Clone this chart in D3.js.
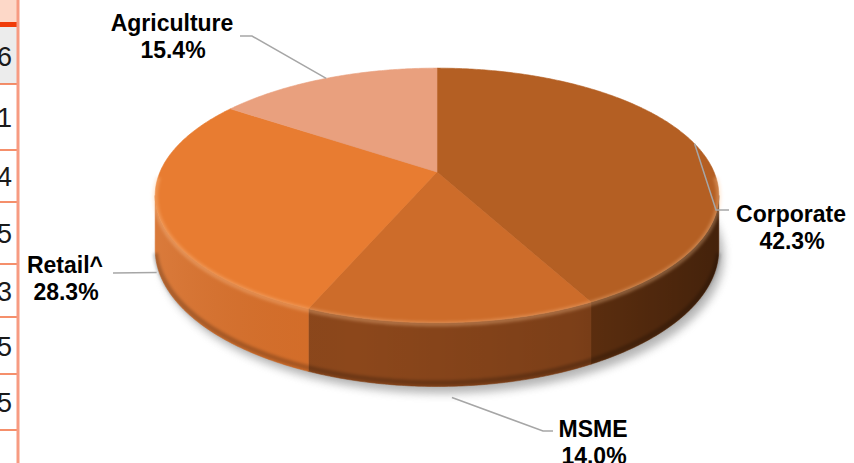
<!DOCTYPE html>
<html>
<head>
<meta charset="utf-8">
<script src="https://cdn.jsdelivr.net/npm/d3@7/dist/d3.min.js"></script>
<style>
  html, body { margin: 0; padding: 0; background: #fff; }
  svg { display: block; font-family: "Liberation Sans", Arial, sans-serif; }
</style>
</head>
<body>
<div id="chart"></div>
<script>
// loan book mix (%), clockwise from 12 o'clock
const categories = ["Corporate", "MSME", "Retail^", "Agriculture"];
const shares = [42.3, 14.0, 28.3, 15.4];
const topColors = ["#b45f23", "#cd6c2a", "#e87c31", "#e9a07e"];
const wallColors = ["#6a3511", "#8c471b", "#d66e29", "#d98c66"];

// cut-off table column on the left edge
const tableDigits = ["6", "1", "4", "5", "3", "5", "5"];
const rowEdges = [27, 84, 150, 202, 264, 317, 374, 430];

const W = 854, H = 463;
const CX = 437, CY = 172, RX = 277, RY = 123, A = 0.184, DEPTH = 52;

const svg = d3.select("#chart").append("svg")
  .attr("width", W)
  .attr("height", H);

const defs = svg.append("defs");
defs.append("filter").attr("id", "shadowBlur")
  .attr("x", "-20%").attr("y", "-20%").attr("width", "140%").attr("height", "140%")
  .append("feGaussianBlur").attr("stdDeviation", 4);
defs.append("filter").attr("id", "rimBlur")
  .attr("x", "-10%").attr("y", "-10%").attr("width", "120%").attr("height", "120%")
  .append("feGaussianBlur").attr("stdDeviation", 1.8);

const wallShade = defs.append("linearGradient")
  .attr("id", "wallShade")
  .attr("gradientUnits", "userSpaceOnUse")
  .attr("x1", CX - RX).attr("x2", CX + RX).attr("y1", 0).attr("y2", 0);
[[0, "#fff", 0.08], [0.35, "#000", 0.0], [0.75, "#000", 0.12], [1, "#000", 0.35]].forEach(s => {
  wallShade.append("stop").attr("offset", s[0]).attr("stop-color", s[1]).attr("stop-opacity", s[2]);
});

// --- table remnant ---
const table = svg.append("g");
table.append("rect").attr("x", 0).attr("y", 0).attr("width", 17).attr("height", 22).attr("fill", "#fdd8c8");
table.append("rect").attr("x", 0).attr("y", 27).attr("width", 17).attr("height", rowEdges[1] - 27).attr("fill", "#ececec");
table.append("rect").attr("x", 0).attr("y", 22).attr("width", 17).attr("height", 5).attr("fill", "#f03c0a");
table.selectAll(".rowLine")
  .data(rowEdges.slice(1))
  .enter().append("line")
  .attr("x1", 0).attr("x2", 17)
  .attr("y1", d => d).attr("y2", d => d)
  .attr("stroke", "#f26a3a").attr("stroke-width", 1.5);
table.selectAll(".digit")
  .data(tableDigits)
  .enter().append("text")
  .attr("x", 12)
  .attr("y", (d, i) => (rowEdges[i] + rowEdges[i + 1]) / 2 + 10)
  .attr("text-anchor", "end")
  .style("font-size", "27px")
  .attr("fill", "#1a1a1a")
  .text(d => d);
table.append("rect").attr("x", 16.5).attr("y", 0).attr("width", 3).attr("height", H).attr("fill", "#f79b82");

// --- 3D pie ---
function proj(t, h) {
  const u = Math.sin(t), v = -Math.cos(t), p = 1 / (1 - A * v);
  return [CX + RX * u * p, CY + RY * v * p + h * p];
}
function arcPts(a0, a1, h) {
  const n = Math.max(2, Math.ceil((a1 - a0) / 0.01));
  return d3.range(n + 1).map(i => proj(a0 + (a1 - a0) * i / n, h));
}
const line = d3.line();
const arcs = d3.pie().sort(null).value(d => d)(shares);
const tMin = Math.acos(-A), tMax = 2 * Math.PI - tMin;

// shadow under the pie
svg.append("path")
  .attr("d", line(arcPts(0, 2 * Math.PI, DEPTH)) + "Z")
  .attr("transform", "translate(5,7)")
  .attr("fill", "#7a7a7a")
  .attr("opacity", 0.55)
  .attr("filter", "url(#shadowBlur)");

// side walls (front-facing part only)
const walls = svg.append("g");
arcs.forEach((d, i) => {
  const a0 = Math.max(d.startAngle, tMin), a1 = Math.min(d.endAngle, tMax);
  if (a0 >= a1) return;
  const pts = arcPts(a0, a1, 0).concat(arcPts(a0, a1, DEPTH).reverse());
  walls.append("path")
    .attr("d", line(pts) + "Z")
    .attr("fill", wallColors[i])
    .attr("stroke", wallColors[i])
    .attr("stroke-width", 0.6);
});
walls.append("path")
  .attr("d", line(arcPts(tMin, tMax, 0).concat(arcPts(tMin, tMax, DEPTH).reverse())) + "Z")
  .attr("fill", "url(#wallShade)");
// darker lower edge of the wall
walls.append("path")
  .attr("d", line(arcPts(tMin + 0.05, tMax - 0.05, DEPTH - 3)))
  .attr("fill", "none")
  .attr("stroke", "#000")
  .attr("stroke-opacity", 0.22)
  .attr("stroke-width", 5)
  .attr("filter", "url(#rimBlur)");

// top faces
const tops = svg.append("g");
arcs.forEach((d, i) => {
  const pts = [[CX, CY]].concat(arcPts(d.startAngle, d.endAngle, 0));
  tops.append("path")
    .attr("d", line(pts) + "Z")
    .attr("fill", topColors[i])
    .attr("stroke", topColors[i])
    .attr("stroke-width", 0.6);
});
// bevel highlight along the front rim
tops.append("path")
  .attr("d", line(arcPts(tMin - 0.15, tMax + 0.15, 1)))
  .attr("fill", "none")
  .attr("stroke", "#ffc894")
  .attr("stroke-opacity", 0.32)
  .attr("stroke-width", 5)
  .attr("filter", "url(#rimBlur)");

// --- labels with leader lines ---
const labelLayout = {
  "Corporate":   { drop: 0,  elbow: [716, 210], end: [729, 210], x: 791, y: 222 },
  "MSME":        { drop: 75, elbow: [543, 431], end: [553, 431], x: 593, y: 437 },
  "Retail^":     { drop: 64, elbow: [113, 273], end: [113, 273], x: 65,  y: 273 },
  "Agriculture": { drop: 0,  elbow: [252, 36],  end: [240, 36],  x: 172, y: 31 }
};

const labels = svg.append("g");
arcs.forEach((d, i) => {
  const lay = labelLayout[categories[i]];
  const mid = (d.startAngle + d.endAngle) / 2;
  const s = proj(mid, 0);
  s[1] += lay.drop;
  labels.append("path")
    .attr("d", line([s, lay.elbow, lay.end]))
    .attr("fill", "none")
    .attr("stroke", "#a6a6a6")
    .attr("stroke-width", 1.5);
  const t = labels.append("text")
    .attr("text-anchor", "middle")
    .style("font-size", "23px")
    .style("font-weight", "bold")
    .attr("fill", "#000");
  t.append("tspan").attr("x", lay.x).attr("y", lay.y).text(categories[i]);
  t.append("tspan").attr("x", lay.x + 1).attr("y", lay.y + 27).text(d3.format(".1f")(shares[i]) + "%");
});
</script>
</body>
</html>
